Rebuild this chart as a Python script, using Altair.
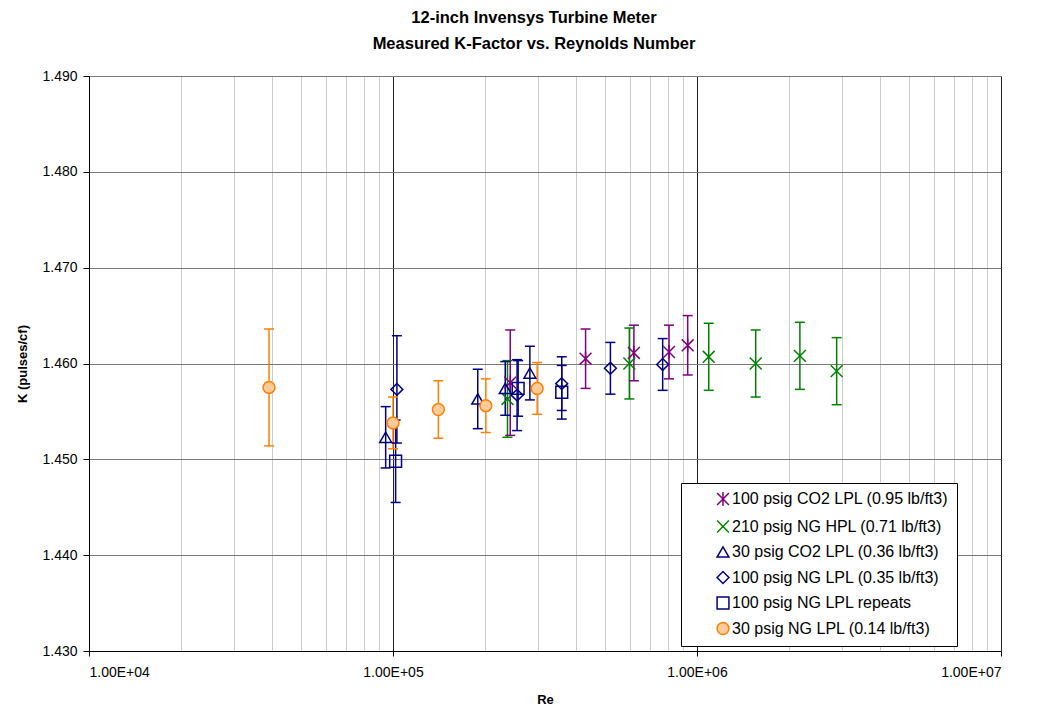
import altair as alt
import pandas as pd

# ---- data ----
series_names = [
    "100 psig CO2 LPL (0.95 lb/ft3)",
    "210 psig NG HPL (0.71 lb/ft3)",
    "30 psig CO2 LPL (0.36 lb/ft3)",
    "100 psig NG LPL (0.35 lb/ft3)",
    "100 psig NG LPL repeats",
    "30 psig NG LPL (0.14 lb/ft3)",
]

co2_100_re = [2.43e5, 4.30e5, 6.20e5, 8.09e5, 9.32e5]
co2_100_k = [1.4580, 1.4605, 1.4611, 1.4612, 1.4619]
co2_100_err = [0.0055, 0.0031, 0.0029, 0.0028, 0.0031]

ng_hpl_re = [2.38e5, 5.99e5, 1.093e6, 1.56e6, 2.18e6, 2.88e6]
ng_hpl_k = [1.4563, 1.4600, 1.4607, 1.4600, 1.4608, 1.4592]
ng_hpl_err = [0.0040, 0.0037, 0.0035, 0.0035, 0.0035, 0.0035]

co2_30_re = [9.46e4, 1.90e5, 2.34e5, 2.82e5]
co2_30_k = [1.4523, 1.4563, 1.4574, 1.4590]
co2_30_err = [0.0032, 0.0031, 0.0028, 0.0028]

ng_100_re = [1.03e5, 2.56e5, 3.59e5, 5.19e5, 7.71e5]
ng_100_k = [1.4573, 1.4567, 1.4579, 1.4595, 1.4599]
ng_100_err = [0.0056, 0.0037, 0.0028, 0.0027, 0.0027]

ng_rep_re = [1.02e5, 2.58e5, 3.59e5]
ng_rep_k = [1.4498, 1.4574, 1.4570]
ng_rep_err = [0.0043, 0.0029, 0.0028]

ng_30_re = [3.91e4, 1.00e5, 1.41e5, 2.02e5, 2.98e5]
ng_30_k = [1.4575, 1.4538, 1.4552, 1.4556, 1.4574]
ng_30_err = [0.0061, 0.0027, 0.0030, 0.0028, 0.0027]

x_major_ticks = [1e4, 1e5, 1e6, 1e7]
x_minor_mult = [2, 3, 4, 5, 6, 7, 8, 9]
y_ticks = [1.43, 1.44, 1.45, 1.46, 1.47, 1.48, 1.49]

# ---- styles ----
stroke_colors = ["#800080", "#008000", "#000080", "#000080", "#000080", "#FF8000"]
fill_colors = ["transparent", "transparent", "transparent", "transparent", "transparent", "#FFCC99"]
shapes = [
    "M-1,-1L1,1M-1,1L1,-1M0,-1.2L0,1.2",
    "M-1,-1L1,1M-1,1L1,-1",
    "triangle-up",
    "diamond",
    "square",
    "circle",
]

groups = [
    (co2_100_re, co2_100_k, co2_100_err),
    (ng_hpl_re, ng_hpl_k, ng_hpl_err),
    (co2_30_re, co2_30_k, co2_30_err),
    (ng_100_re, ng_100_k, ng_100_err),
    (ng_rep_re, ng_rep_k, ng_rep_err),
    (ng_30_re, ng_30_k, ng_30_err),
]
rows = []
for name, (res, ks, errs) in zip(series_names, groups):
    for r, k, e in zip(res, ks, errs):
        rows.append({"series": name, "Re": r, "K": k, "lo": k - e, "hi": k + e})
df = pd.DataFrame(rows)

x_values = []
for m in x_major_ticks:
    x_values.append(m)
    if m < x_major_ticks[-1]:
        x_values.extend([m * f for f in x_minor_mult])

FONT = "Liberation Sans"
major_test = "abs(log(datum.value)/LN10 - round(log(datum.value)/LN10)) < 1e-6"

x_axis = alt.Axis(
    values=x_values,
    title="Re",
    labelExpr="(" + major_test + ") ? '1.00E+0' + format(round(log(datum.value)/LN10), 'd') : ''",
    grid=True,
    gridColor={"condition": {"test": major_test, "value": "#222222"}, "value": "#cccccc"},
    gridWidth=1,
    tickColor={"condition": {"test": major_test, "value": "#000000"}, "value": "transparent"},
    tickSize=5,
    domainColor="#000000",
    labelFont=FONT, labelFontSize=14, labelColor="#000000", labelPadding=9,
    labelOverlap=False,
    titleFont=FONT, titleFontSize=13, titleFontWeight="bold", titleColor="#000000", titlePadding=14,
)
y_axis = alt.Axis(
    values=y_ticks,
    format=".3f",
    title="K (pulses/cf)",
    grid=True,
    gridColor="#7a7a7a",
    tickColor="#000000",
    tickSize=6,
    domainColor="#000000",
    labelFont=FONT, labelFontSize=14, labelColor="#000000", labelPadding=6,
    titleFont=FONT, titleFontSize=13, titleFontWeight="bold", titleColor="#000000", titlePadding=12,
)
x_scale = alt.Scale(type="log", domain=[1e4, 1e7], nice=False)
y_scale = alt.Scale(domain=[1.43, 1.49], nice=False, zero=False)

legend = alt.Legend(
    title=None, orient="none", legendX=592, legendY=407,
    fillColor="white", strokeColor="black", padding=8,
    symbolOffset=26, symbolSize=140, symbolStrokeWidth=1.5,
    labelFont=FONT, labelFontSize=16, labelColor="#000000", labelLimit=400,
    labelOffset=1, rowPadding=7.5,
)
color_scale = alt.Scale(domain=series_names, range=stroke_colors)
color_enc = alt.Color("series:N", scale=color_scale, legend=legend)

base = alt.Chart(df)

bars = base.mark_rule(strokeWidth=1.5).encode(
    x=alt.X("Re:Q", scale=x_scale, axis=x_axis),
    y=alt.Y("lo:Q", scale=y_scale, axis=y_axis),
    y2="hi:Q",
    color=color_enc,
)
cap_hi = base.mark_rule(strokeWidth=1.5, xOffset=-5, x2Offset=5).encode(
    x=alt.X("Re:Q", scale=x_scale, axis=x_axis),
    x2="Re:Q",
    y=alt.Y("hi:Q", scale=y_scale, axis=y_axis),
    color=color_enc,
)
cap_lo = base.mark_rule(strokeWidth=1.5, xOffset=-5, x2Offset=5).encode(
    x=alt.X("Re:Q", scale=x_scale, axis=x_axis),
    x2="Re:Q",
    y=alt.Y("lo:Q", scale=y_scale, axis=y_axis),
    color=color_enc,
)
points = base.mark_point(filled=False, size=140, strokeWidth=1.5, opacity=1).encode(
    x=alt.X("Re:Q", scale=x_scale, axis=x_axis),
    y=alt.Y("K:Q", scale=y_scale, axis=y_axis),
    color=color_enc,
    fill=alt.Fill("series:N", scale=alt.Scale(domain=series_names, range=fill_colors), legend=legend),
    shape=alt.Shape("series:N", scale=alt.Scale(domain=series_names, range=shapes), legend=legend),
)

chart = alt.layer(bars, cap_hi, cap_lo, points).properties(
    width=912,
    height=575,
    autosize=alt.AutoSizeParams(type="none"),
    padding={"left": 89, "top": 76, "right": 40, "bottom": 62},
    title=alt.TitleParams(
        ["12-inch Invensys Turbine Meter", "Measured K-Factor vs. Reynolds Number"],
        font=FONT, fontSize=16.5, fontWeight="bold", color="#000000",
        anchor="middle", dx=-11, offset=17, lineHeight=26,
    ),
).configure_view(stroke="#000000", strokeWidth=1).configure(background="white")

chart.save("out.html", embed_options={"renderer": "svg", "actions": False})
